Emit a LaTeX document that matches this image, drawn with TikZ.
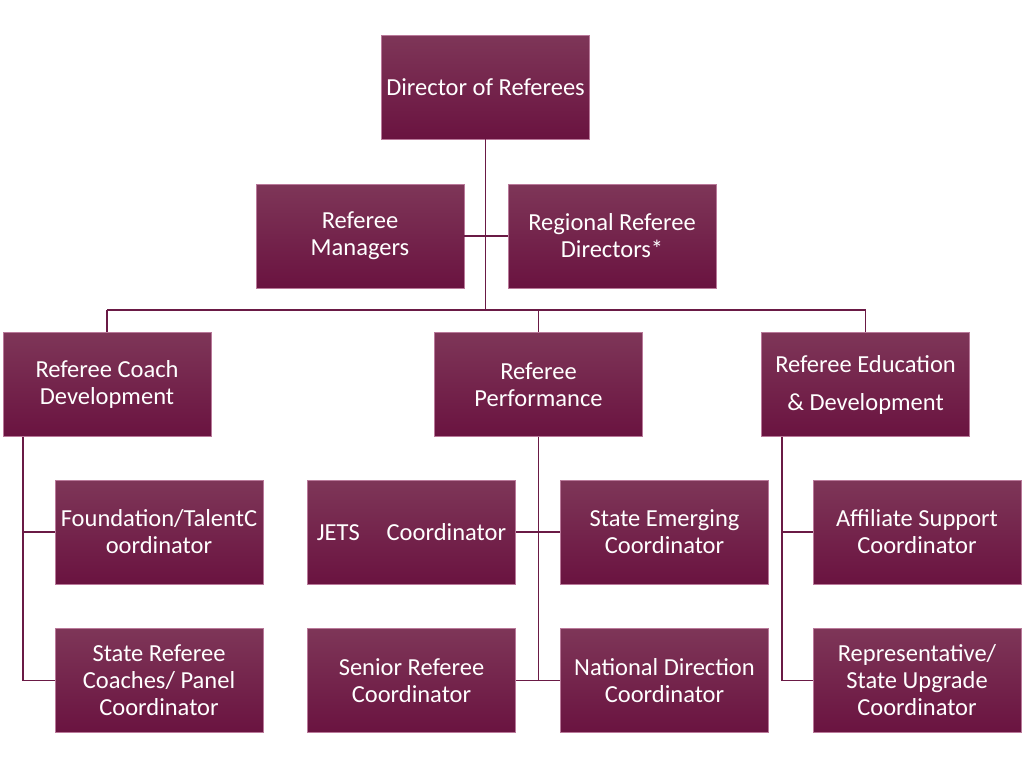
\documentclass[tikz,border=0pt]{standalone}
\usepackage{fontspec}
\setmainfont{Carlito}
\definecolor{boxtop}{HTML}{7E3658}
\definecolor{boxbot}{HTML}{6A1340}
\definecolor{boxedge}{HTML}{B9799A}
\definecolor{linkcol}{HTML}{6A1A45}
\tikzset{
  unit/.style={rectangle, draw=boxedge, line width=0.6pt, top color=boxtop, bottom color=boxbot,
    minimum width=208pt, minimum height=104pt, inner sep=1pt, text=white, align=center,
    font=\fontsize{24.5}{27}\selectfont},
  link/.style={draw=linkcol, line width=1.8pt}
}
\begin{document}
\begin{tikzpicture}[x=1pt,y=-1pt]
                \useasboundingbox (0,0) rectangle (1024,769);

                \node[unit] (dir) at (485.5,87) {Director of Referees};
                \node[unit] (mgr) at (360,236) {Referee\\Managers};
                \node[unit] (reg) at (612,236) {Regional Referee\\Directors*};

                \node[unit] (coach) at (107,384.5) {Referee Coach\\Development};
                \node[unit] (perf) at (538.5,384.5) {Referee\\Performance};
                \node[unit] (edu) at (865.5,384.5) {Referee Education\\[11pt]\& Development};

                \node[unit] (found) at (159,532) {Foundation/TalentC\\oordinator};
                \node[unit] (panel) at (159,680.5) {State Referee\\Coaches/ Panel\\Coordinator};
                \node[unit] (jets) at (411.5,532) {JETS\hspace{1.1em}Coordinator};
                \node[unit] (emerg) at (664.5,532) {State Emerging\\Coordinator};
                \node[unit] (senior) at (411.5,680.5) {Senior Referee\\Coordinator};
                \node[unit] (natl) at (664.5,680.5) {National Direction\\Coordinator};
                \node[unit] (affil) at (917,532) {Affiliate Support\\Coordinator};
                \node[unit] (rep) at (917,680.5) {Representative/\\State Upgrade\\Coordinator};

                \coordinate (bus) at (485.5,310);
                \coordinate (busL) at (107,310);
                \coordinate (busR) at (865.5,310);
                \coordinate (coachEnd) at (23,680.5);
                \coordinate (perfEnd) at (538.5,680.5);
                \coordinate (eduEnd) at (782,680.5);

                \draw[link] (dir.south) -- (bus);
                \draw[link] (mgr.east) -- (reg.west);
                \draw[link] (busL) -- (busR);
                \draw[link] (busL) -- (coach.north);
                \draw[link] (perf.north |- bus) -- (perf.north);
                \draw[link] (busR) -- (edu.north);

                \draw[link] (coach.south -| coachEnd) -- (coachEnd) -- (panel.west);
                \draw[link] (found.west -| coachEnd) -- (found.west);
                \draw[link] (perf.south) -- (perfEnd);
                \draw[link] (jets.east) -- (emerg.west);
                \draw[link] (senior.east) -- (natl.west);
                \draw[link] (edu.south -| eduEnd) -- (eduEnd) -- (rep.west);
                \draw[link] (affil.west -| eduEnd) -- (affil.west);
            \end{tikzpicture}
\end{document}
